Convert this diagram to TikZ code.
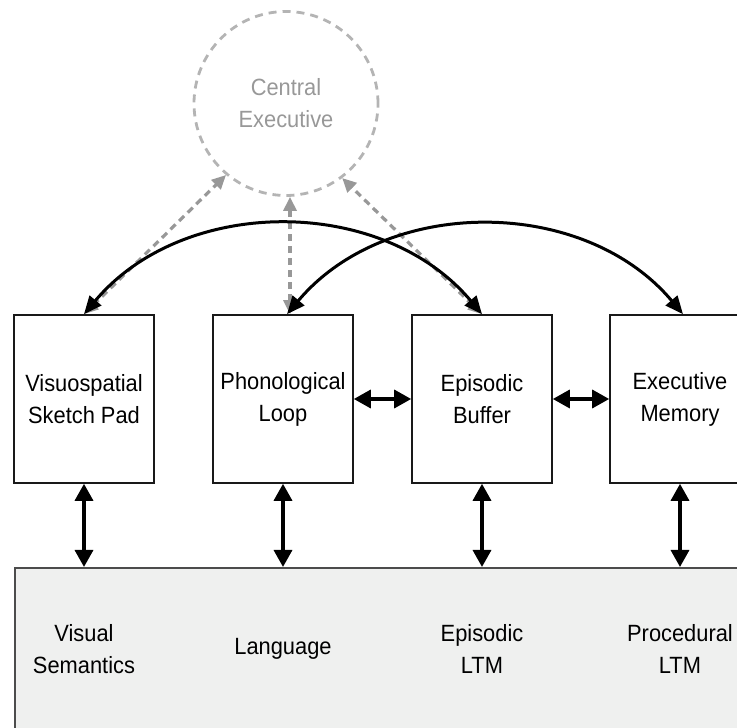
\documentclass[tikz,border=0pt]{standalone}
\usepackage{fontspec}
\setmainfont{Liberation Sans}[FakeStretch=0.93]
\usetikzlibrary{arrows.meta}
\definecolor{ltmfill}{HTML}{EFF0EF}
\definecolor{cegray}{HTML}{989898}
\definecolor{cegrayl}{HTML}{B4B4B4}
\begin{document}
\begin{tikzpicture}[x=1pt,y=1pt,
  txt/.style={font=\fontsize{23.5}{32}\selectfont, align=center, inner sep=0pt},
  membox/.style={txt, draw=black!90, line width=1.6pt, minimum width=140pt, minimum height=168pt, fill=white},
  ltmbox/.style={draw=black!70, line width=1.6pt, fill=ltmfill, minimum width=760pt, minimum height=220pt, anchor=north west, inner sep=0pt},
  cebox/.style={txt, circle, draw=cegrayl, line width=2.8pt, dash pattern=on 8pt off 6pt, minimum size=184pt, text=cegray},
  grayarrow/.style={draw=cegray, line width=3.2pt, dash pattern=on 7pt off 5pt, {Triangle[length=14pt,width=13pt]}-{Triangle[length=14pt,width=13pt]}},
  arcarrow/.style={line width=3pt, {Triangle[length=18pt,width=15pt]}-{Triangle[length=18pt,width=15pt]}},
  biarrow/.style={line width=3.4pt, {Triangle[length=17pt,width=18pt]}-{Triangle[length=17pt,width=18pt]}}]
\useasboundingbox (0,0) rectangle (737,728);
\clip (0,0) rectangle (737,728);
% long-term memory
\node[ltmbox] (ltm) at (14,161) {};
\node[txt] (vsem) at (84,79) {Visual\\Semantics};
\node[txt] (lang) at (283,79) {Language};
\node[txt] (eltm) at (482,79) {Episodic\\LTM};
\node[txt] (pltm) at (680,79) {Procedural\\LTM};
% working memory boxes
\node[membox] (vs) at (84,329) {Visuospatial\\Sketch Pad};
\node[membox] (pl) at (283,329) {Phonological\\Loop};
\node[membox] (eb) at (482,329) {Episodic\\Buffer};
\node[membox] (em) at (680,329) {Executive\\Memory};
% central executive
\node[cebox] (ce) at (286,624.5) {Central\\Executive};
\coordinate (plg) at ([xshift=7pt]pl.north);
\coordinate (pla) at ([xshift=4pt]pl.north);
\coordinate (ema) at ([xshift=3pt]em.north);
% gray dashed links
\draw[grayarrow] (vs.north) -- (ce.-130);
\draw[grayarrow] (plg) -- (plg |- ce.south);
\draw[grayarrow] (eb.north) -- (ce.-53);
% black arcs
\draw[arcarrow] (vs.north) to[out=50,in=130] (eb.north);
\draw[arcarrow] (pla) to[out=50,in=130] (ema);
% horizontal links
\draw[biarrow] (pl.east) -- (eb.west);
\draw[biarrow] (eb.east) -- (em.west);
% vertical links
\draw[biarrow] (vs.south) -- (vs.south |- ltm.north);
\draw[biarrow] (pl.south) -- (pl.south |- ltm.north);
\draw[biarrow] (eb.south) -- (eb.south |- ltm.north);
\draw[biarrow] (em.south) -- (em.south |- ltm.north);
\end{tikzpicture}
\end{document}
